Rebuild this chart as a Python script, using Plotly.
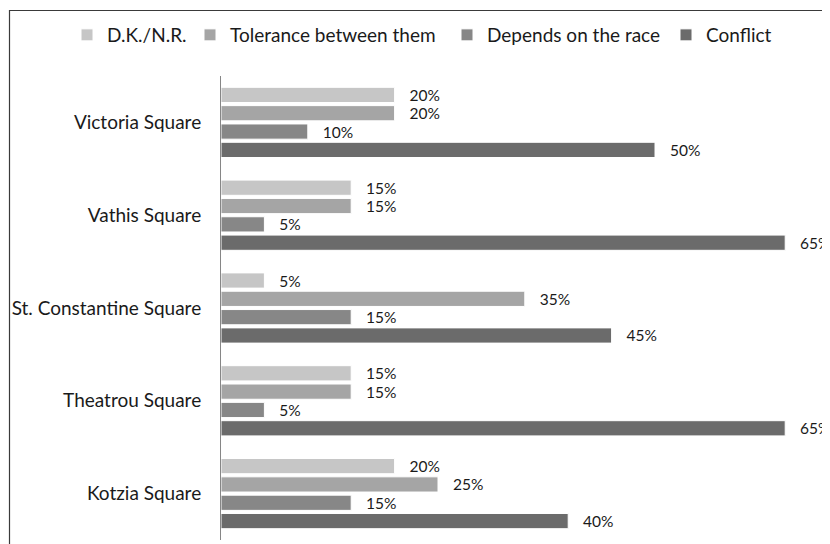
import plotly.graph_objects as go

categories = ["Victoria Square", "Vathis Square", "St. Constantine Square", "Theatrou Square", "Kotzia Square"]
series_names = ["D.K./N.R.", "Tolerance between them", "Depends on the race", "Conflict"]
dk_values = [20, 15, 5, 15, 20]
tolerance_values = [20, 15, 35, 15, 25]
depends_values = [10, 5, 15, 5, 15]
conflict_values = [50, 65, 45, 65, 40]
colors = ["#c6c6c6", "#a5a5a5", "#878787", "#6b6b6b"]
legend_widths = [78, 212, 174, 80]

FONT = "Lato"
FS = 19
LABEL_FS = 15.5
PAD = "\u00a0\u00a0\u00a0"
fig = go.Figure()
for name, vals, col, lw in zip(series_names, [dk_values, tolerance_values, depends_values, conflict_values], colors, legend_widths):
    fig.add_trace(go.Bar(
        y=categories, x=vals, name=name, orientation="h",
        marker=dict(color=col, line=dict(color="#ffffff", width=1)),
        text=[f"{PAD}{v}%" for v in vals], textposition="outside",
        textfont=dict(family=FONT, size=LABEL_FS, color="#1a1a1a"),
        constraintext="none", cliponaxis=False, legendwidth=lw,
    ))

# page body has an 8px margin, so the figure is sized to fit inside the window
W, H = 822, 536
L, R, T, B = 213, 0, 68, 4
pw, ph = W - L - R, H - T - B

fig.update_layout(
    width=W, height=H,
    margin=dict(l=L, r=R, t=T, b=B, autoexpand=False),
    paper_bgcolor="white", plot_bgcolor="white",
    barmode="group", bargap=0.21, bargroupgap=0.17,
    font=dict(family=FONT, size=FS, color="#1a1a1a"),
    showlegend=True,
    legend=dict(orientation="h", x=(59 - L) / pw, xanchor="left", y=1 + (T - 8) / ph, yanchor="top",
                font=dict(family=FONT, size=FS, color="#1a1a1a"), traceorder="normal",
                itemclick=False, bgcolor="rgba(0,0,0,0)"),
    xaxis=dict(range=[0, pw / 8.68], showgrid=False, zeroline=False, showticklabels=False, showline=False),
    yaxis=dict(autorange="reversed", showgrid=False, zeroline=False, showline=True, linecolor="#868686",
               linewidth=1, ticks="outside", ticklen=15, tickcolor="rgba(0,0,0,0)",
               tickfont=dict(family=FONT, size=FS, color="#1a1a1a")),
)

# outer chart frame (partially cropped at right/bottom)
fig.add_shape(type="rect", xref="paper", yref="paper",
              x0=(1.5 - L) / pw, x1=(W + 20 - L) / pw, y0=-(B + 20) / ph, y1=1 + (T - 2.5) / ph,
              line=dict(color="#3a3a3a", width=1.2), fillcolor="rgba(0,0,0,0)", layer="below")

fig.write_html("out.html")
